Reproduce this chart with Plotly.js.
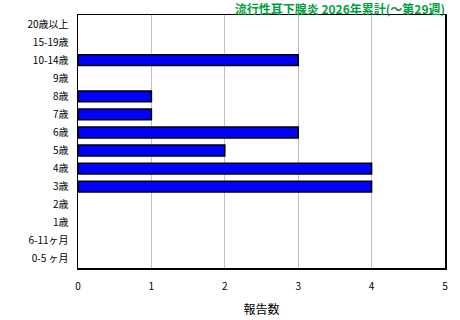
<!DOCTYPE html>
<html><head><meta charset="utf-8">
<script src="https://cdn.plot.ly/plotly-3.0.1.min.js"></script>
<style>body{margin:0;}#c{width:460px;height:320px;}</style>
</head><body><div id="c"></div>
<script>
const categories = ["0-5 ヶ月","6-11ヶ月","1歳","2歳","3歳","4歳","5歳","6歳","7歳","8歳","9歳","10-14歳","15-19歳","20歳以上"];
const counts = [0,0,0,0,4,4,2,3,1,1,0,3,0,0];
const xTicks = [0,1,2,3,4,5];
const titleText = "流行性耳下腺炎 2026年累計(～第29週)";
const xTitle = "報告数";

const font = "'Noto Sans CJK JP', 'DejaVu Sans', sans-serif";
Plotly.newPlot('c', [{
  type:'bar', orientation:'h', y:categories, x:counts,
  marker:{color:'#0000ff', line:{color:'#000000', width:counts.map(v => v > 0 ? 1.5 : 0)}},
  width:0.6, hoverinfo:'skip'
}], {
  width:460, height:320,
  margin:{l:78, r:15, t:15, b:52},
  paper_bgcolor:'#ffffff', plot_bgcolor:'#ffffff',
  font:{family:font, size:10, color:'#000'},
  showlegend:false,
  title:{text:titleText, x:1, xref:'paper', xanchor:'right', y:1-9.5/320, yref:'container', yanchor:'middle',
         font:{family:font, size:12, color:'#00a040', weight:'bold'}},
  xaxis:{range:[0,5], tickvals:xTicks, ticktext:xTicks.map(String), showgrid:true, gridcolor:'#c0c0c0', gridwidth:1,
         showline:true, linecolor:'#000', linewidth:1.5, mirror:true, zeroline:false, ticks:'', ticklabelstandoff:8,
         title:{text:xTitle, standoff:14, font:{family:font, size:12}}, fixedrange:true},
  yaxis:{type:'category', categoryorder:'array', categoryarray:categories, showgrid:false,
         showline:true, linecolor:'#000', linewidth:1.5, mirror:true, ticks:'', ticklabelstandoff:6, fixedrange:true}
}, {staticPlot:true});
</script></body></html>
